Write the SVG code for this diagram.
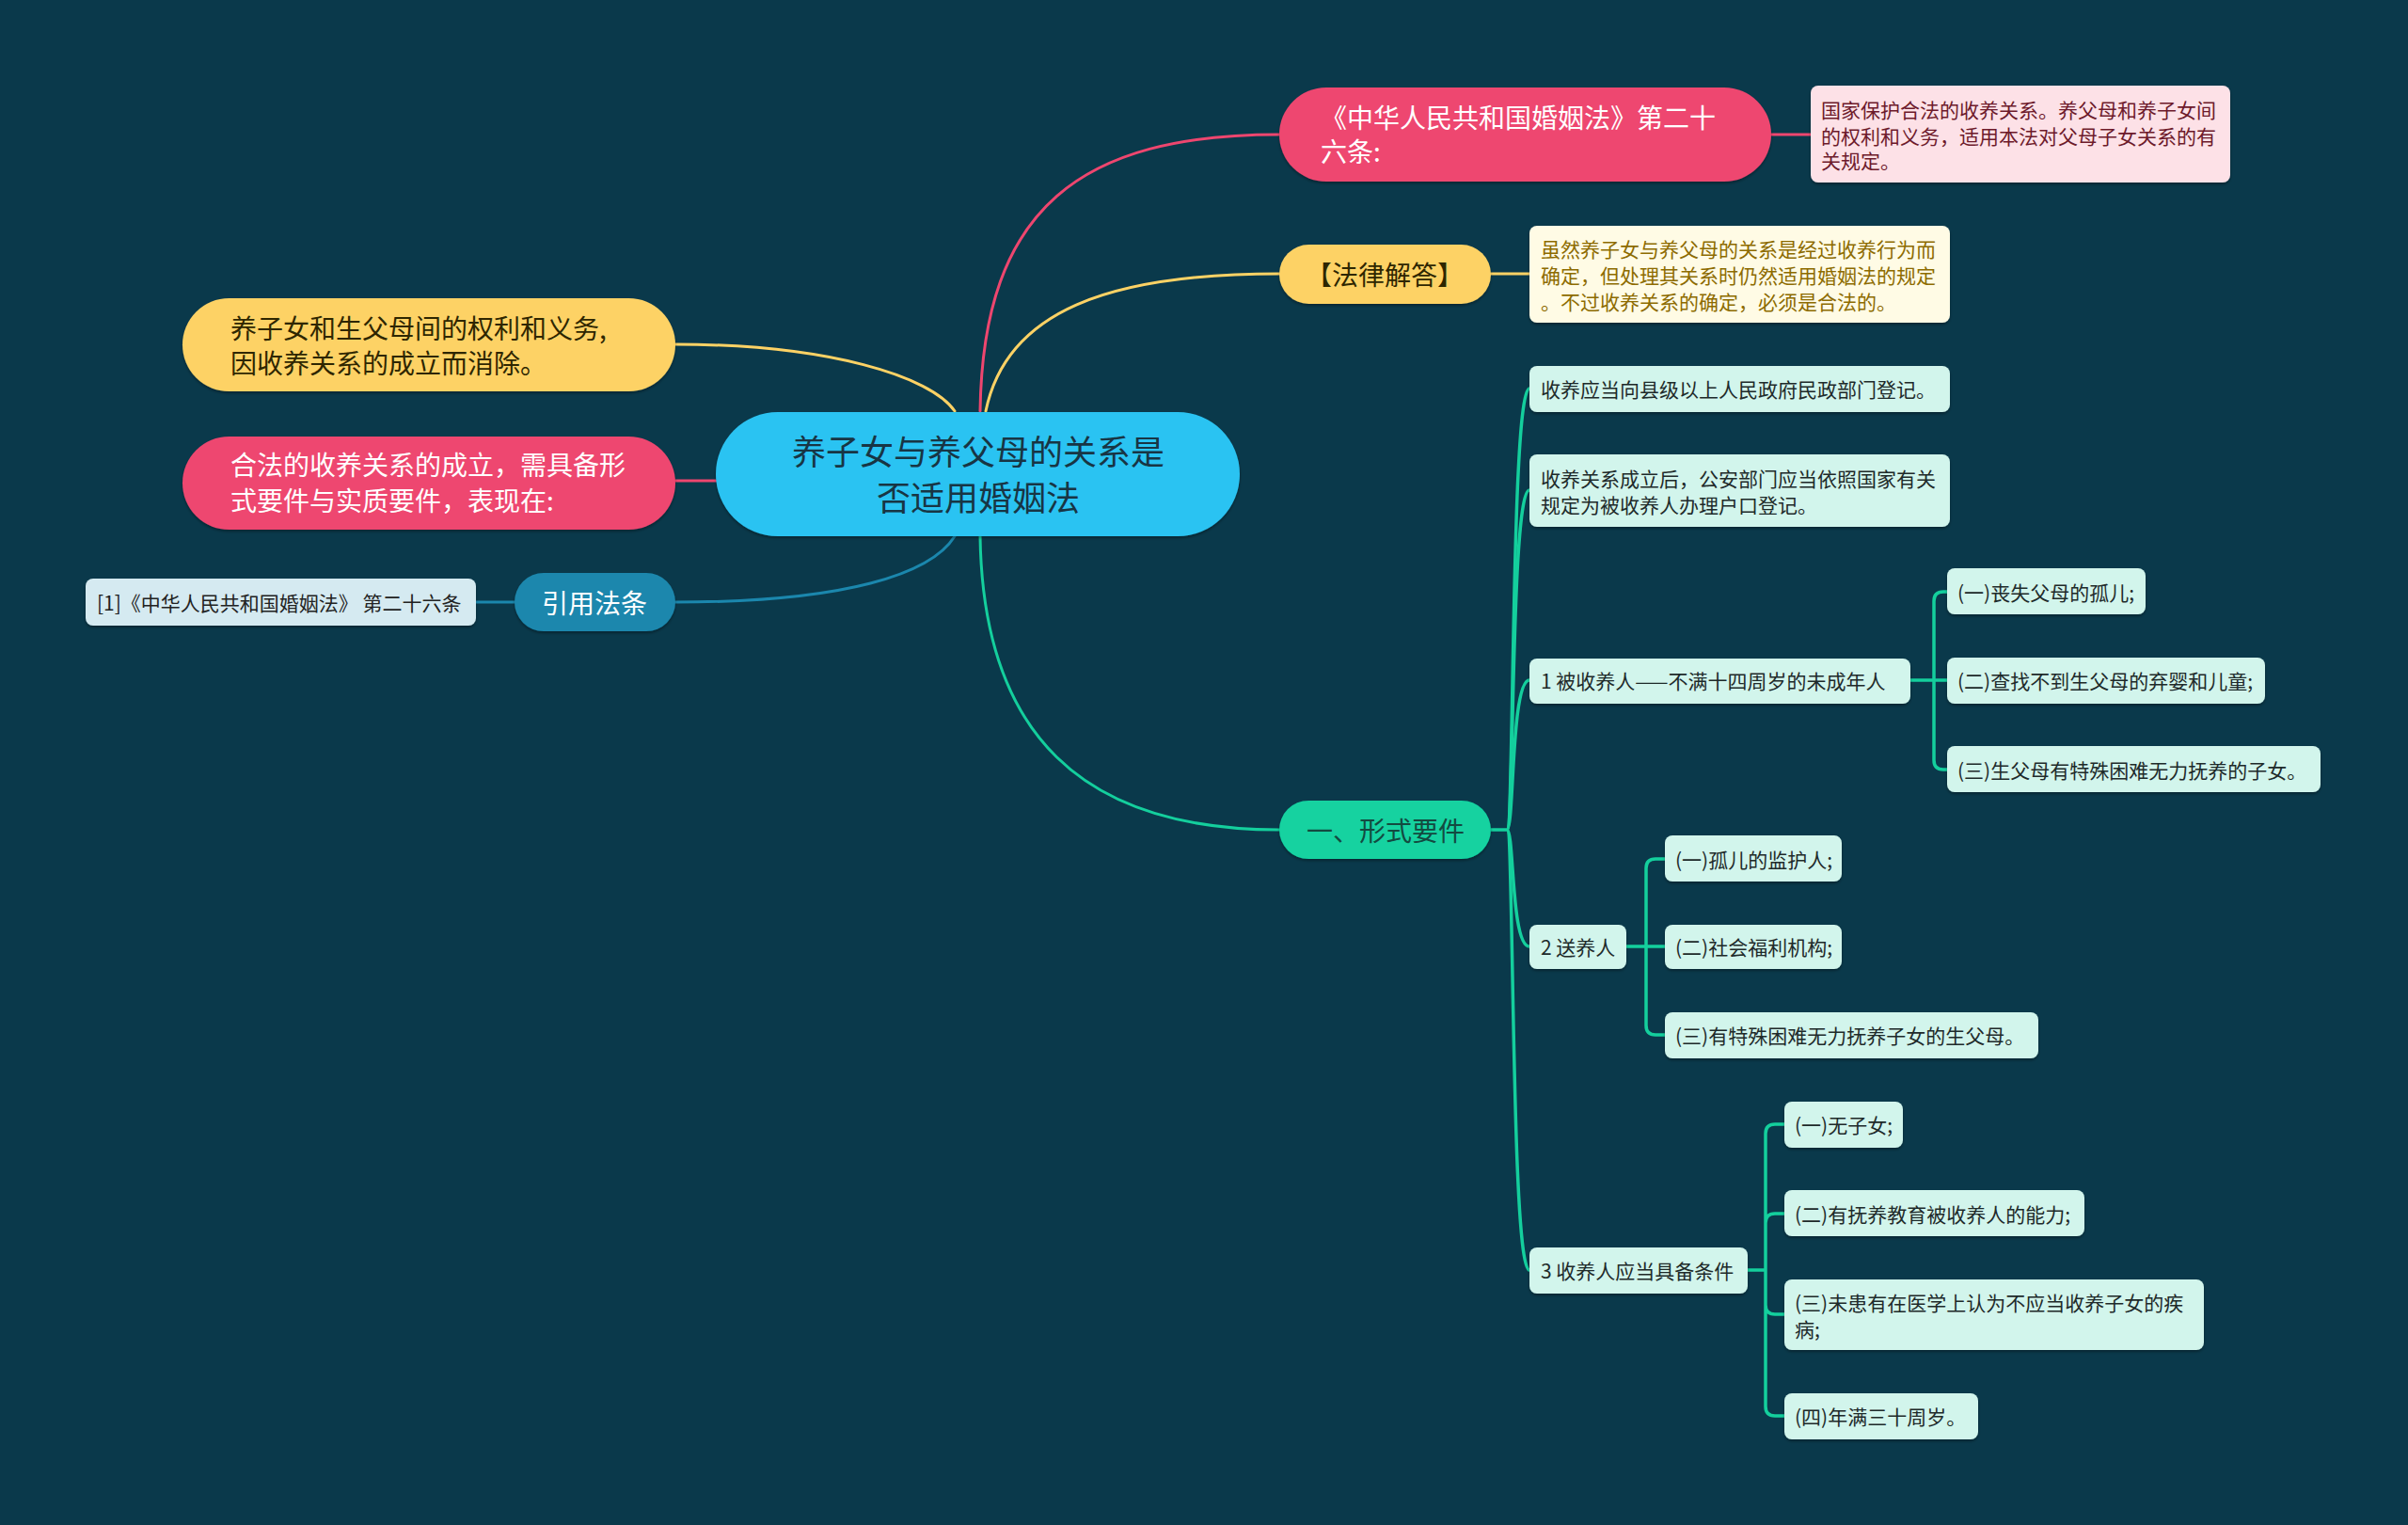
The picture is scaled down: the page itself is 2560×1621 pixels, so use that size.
<svg xmlns="http://www.w3.org/2000/svg" width="2560" height="1621" viewBox="0 0 2560 1621">
<defs>
<filter id="sh" x="-5%" y="-10%" width="110%" height="130%">
<feDropShadow dx="0" dy="2" stdDeviation="1.5" flood-color="#000" flood-opacity="0.35"/>
</filter>
</defs>
<style>
text{font-family:"Noto Sans CJK SC","Noto Sans",sans-serif;dominant-baseline:central}
.lg rect{fill:#d2f5ec;filter:url(#sh)}
.lg text{font-size:21px;fill:#1e2a2a}
.c{fill:none;stroke-width:3;stroke-linecap:round}
.cg{stroke:#14cf9d;stroke-width:3.5;fill:none}
</style>
<rect x="0" y="0" width="2560" height="1621" fill="#0a394b"/>
<g id="connectors">
<path class="c" stroke="#ee466f" d="M1042 437 C1045 220 1150 143 1360 143"/>
<path class="c" stroke="#fdd265" d="M1048 437 C1070 330 1180 291 1360 291"/>
<path class="c" stroke="#fdd265" d="M718 366 C880 366 990 400 1015 437"/>
<path class="c" stroke="#ee466f" d="M718 511 H761"/>
<path class="c" stroke="#1b87ad" d="M718 640 C900 640 990 610 1015 570"/>
<path class="c" stroke="#14cf9d" d="M1042 570 C1045 780 1150 882 1360 882"/>
<path class="c" stroke="#ee466f" d="M1883 143 H1925"/>
<path class="c" stroke="#fdd265" d="M1585 291 H1626"/>
<path class="c" stroke="#1b87ad" d="M547 640 H506"/>
<path class="cg" d="M1585 882 H1602"/>
<path class="cg" d="M1602 882 C1610 882 1606 413 1626 413"/>
<path class="cg" d="M1602 882 C1610 882 1606 521 1626 521"/>
<path class="cg" d="M1602 882 C1610 882 1606 723 1626 723"/>
<path class="cg" d="M1602 882 C1610 882 1606 1006 1626 1006"/>
<path class="cg" d="M1602 882 C1610 882 1606 1350 1626 1350"/>
<path class="cg" d="M2031 723 H2070 M2056 723 V639 Q2056 629 2066 629 H2070 M2056 723 V808 Q2056 818 2066 818 H2070"/>
<path class="cg" d="M1729 1006 H1770 M1750 1006 V923 Q1750 913 1760 913 H1770 M1750 1006 V1090 Q1750 1100 1760 1100 H1770"/>
<path class="cg" d="M1858 1350 H1877 V1205 Q1877 1195 1887 1195 H1897 M1877 1350 V1300 Q1877 1290 1887 1290 H1897 M1877 1350 V1387 Q1877 1397 1887 1397 H1897 M1877 1350 V1495 Q1877 1505 1887 1505 H1897"/>
</g>
<g id="center">
<rect x="761" y="438" width="557" height="132" rx="66" fill="#2cc3f2" filter="url(#sh)"/>
<text x="1040" y="478" font-size="36" fill="#183544" text-anchor="middle">养子女与养父母的关系是</text>
<text x="1040" y="527" font-size="36" fill="#183544" text-anchor="middle">否适用婚姻法</text>
</g>
<g id="n-law26">
<rect x="1360" y="93" width="523" height="100" rx="50" fill="#ee466f" filter="url(#sh)"/>
<text x="1404" y="124" font-size="28" fill="#fff">《中华人民共和国婚姻法》第二十</text>
<text x="1404" y="160" font-size="28" fill="#fff">六条:</text>
</g>
<g id="n-law26-note">
<rect x="1925" y="91" width="446" height="103" rx="8" fill="#fde1e7" filter="url(#sh)"/>
<text x="1936" y="116" font-size="21" fill="#6d1a2b">国家保护合法的收养关系。养父母和养子女间</text>
<text x="1936" y="144" font-size="21" fill="#6d1a2b">的权利和义务，适用本法对父母子女关系的有</text>
<text x="1936" y="170" font-size="21" fill="#6d1a2b">关规定。</text>
</g>
<g id="n-answer">
<rect x="1360" y="260" width="225" height="63" rx="31.5" fill="#fdd265" filter="url(#sh)"/>
<text x="1472" y="291" font-size="28" fill="#2e2600" text-anchor="middle">【法律解答】</text>
</g>
<g id="n-answer-note">
<rect x="1626" y="240" width="447" height="103" rx="8" fill="#fffbe5" filter="url(#sh)"/>
<text x="1638" y="264" font-size="21" fill="#8d6b00">虽然养子女与养父母的关系是经过收养行为而</text>
<text x="1638" y="292" font-size="21" fill="#8d6b00">确定，但处理其关系时仍然适用婚姻法的规定</text>
<text x="1638" y="320" font-size="21" fill="#8d6b00">。不过收养关系的确定，必须是合法的。</text>
</g>
<g id="n-left-yellow">
<rect x="194" y="317" width="524" height="99" rx="49.5" fill="#fdd265" filter="url(#sh)"/>
<text x="245" y="348" font-size="28" fill="#2e2600">养子女和生父母间的权利和义务,</text>
<text x="245" y="385" font-size="28" fill="#2e2600">因收养关系的成立而消除。</text>
</g>
<g id="n-left-pink">
<rect x="194" y="464" width="524" height="99" rx="49.5" fill="#ee466f" filter="url(#sh)"/>
<text x="245" y="493" font-size="28" fill="#fff">合法的收养关系的成立，需具备形</text>
<text x="245" y="531" font-size="28" fill="#fff">式要件与实质要件，表现在:</text>
</g>
<g id="n-cite">
<rect x="547" y="609" width="171" height="62" rx="31" fill="#1b87ad" filter="url(#sh)"/>
<text x="632" y="640" font-size="28" fill="#fff" text-anchor="middle">引用法条</text>
</g>
<g id="n-cite-note">
<rect x="91" y="615" width="415" height="50" rx="8" fill="#d5eaf1" filter="url(#sh)"/>
<text x="103" y="640" font-size="21" fill="#222">[1]《中华人民共和国婚姻法》 第二十六条</text>
</g>
<g id="n-formal">
<rect x="1360" y="851" width="225" height="62" rx="31" fill="#12d2a0" filter="url(#sh)"/>
<text x="1473" y="882" font-size="28" fill="#134a40" text-anchor="middle">一、形式要件</text>
</g>
<g id="f1" class="lg"><rect x="1626" y="389" width="447" height="49" rx="8"/><text x="1638" y="413">收养应当向县级以上人民政府民政部门登记。</text></g>
<g id="f2" class="lg"><rect x="1626" y="483" width="447" height="77" rx="8"/><text x="1638" y="508">收养关系成立后，公安部门应当依照国家有关</text><text x="1638" y="536">规定为被收养人办理户口登记。</text></g>
<g id="f3" class="lg"><rect x="1626" y="700" width="405" height="48" rx="8"/><text x="1638" y="723">1 被收养人——不满十四周岁的未成年人</text></g>
<g id="f3a" class="lg"><rect x="2070" y="604" width="211" height="49" rx="8"/><text x="2081" y="629">(一)丧失父母的孤儿;</text></g>
<g id="f3b" class="lg"><rect x="2070" y="699" width="338" height="49" rx="8"/><text x="2081" y="723">(二)查找不到生父母的弃婴和儿童;</text></g>
<g id="f3c" class="lg"><rect x="2070" y="793" width="397" height="49" rx="8"/><text x="2081" y="818">(三)生父母有特殊困难无力抚养的子女。</text></g>
<g id="f4" class="lg"><rect x="1626" y="983" width="103" height="47" rx="8"/><text x="1638" y="1006">2 送养人</text></g>
<g id="f4a" class="lg"><rect x="1770" y="888" width="188" height="49" rx="8"/><text x="1781" y="913">(一)孤儿的监护人;</text></g>
<g id="f4b" class="lg"><rect x="1770" y="983" width="188" height="47" rx="8"/><text x="1781" y="1006">(二)社会福利机构;</text></g>
<g id="f4c" class="lg"><rect x="1770" y="1076" width="397" height="49" rx="8"/><text x="1781" y="1100">(三)有特殊困难无力抚养子女的生父母。</text></g>
<g id="f5" class="lg"><rect x="1626" y="1326" width="232" height="49" rx="8"/><text x="1638" y="1350">3 收养人应当具备条件</text></g>
<g id="f5a" class="lg"><rect x="1897" y="1171" width="126" height="49" rx="8"/><text x="1908" y="1195">(一)无子女;</text></g>
<g id="f5b" class="lg"><rect x="1897" y="1265" width="319" height="49" rx="8"/><text x="1908" y="1290">(二)有抚养教育被收养人的能力;</text></g>
<g id="f5c" class="lg"><rect x="1897" y="1360" width="446" height="75" rx="8"/><text x="1908" y="1384">(三)未患有在医学上认为不应当收养子女的疾</text><text x="1908" y="1412">病;</text></g>
<g id="f5d" class="lg"><rect x="1897" y="1481" width="206" height="49" rx="8"/><text x="1908" y="1505">(四)年满三十周岁。</text></g>
</svg>
